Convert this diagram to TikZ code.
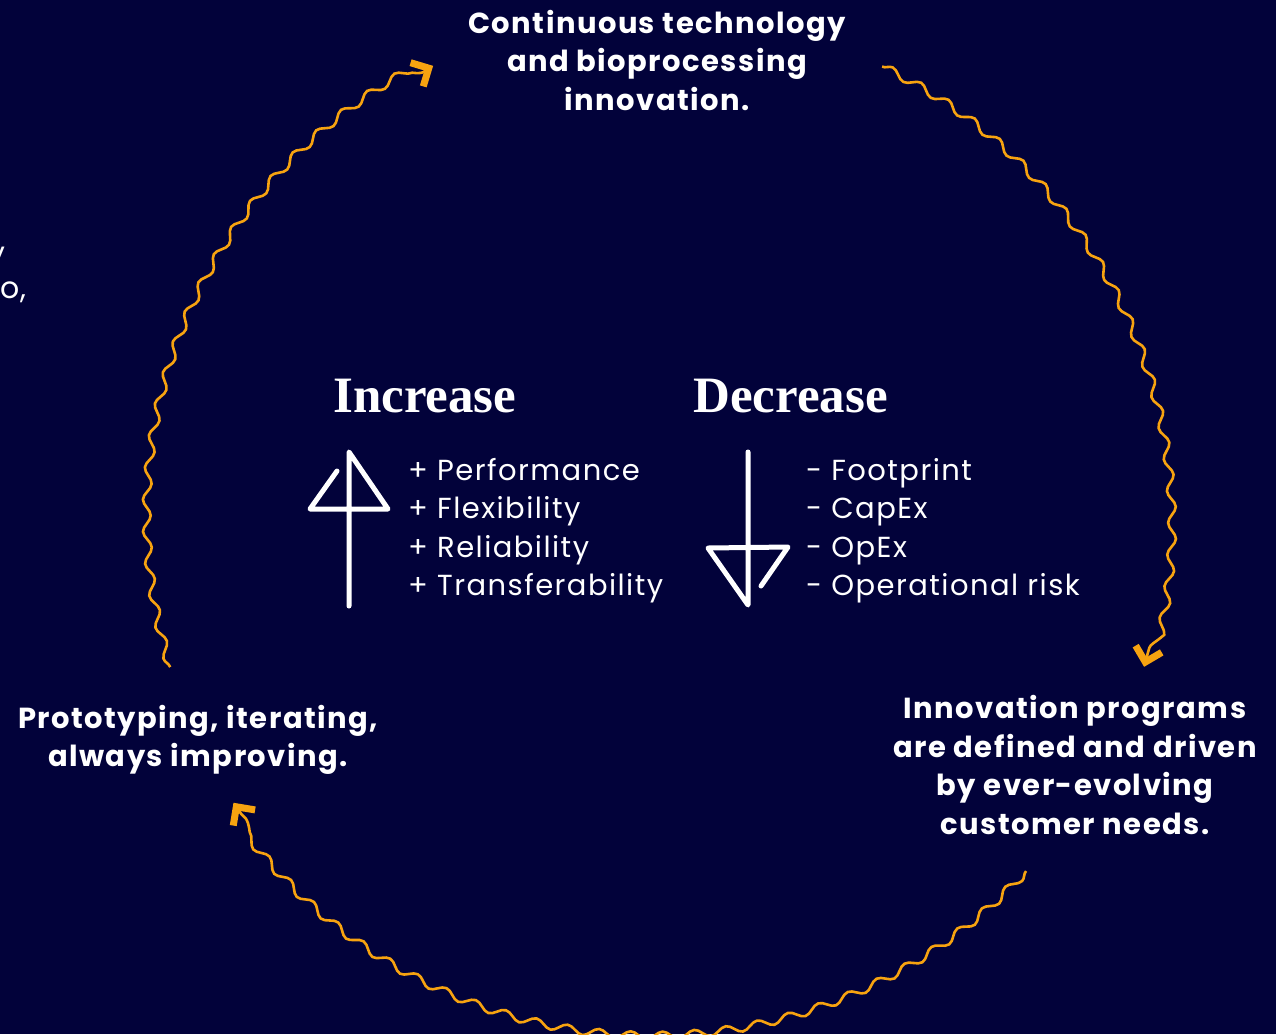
\documentclass[tikz,border=0pt]{standalone}
\usepackage{fontspec}
\setmainfont{Poppins}[LetterSpace=5]
\newfontfamily\headfont{Liberation Serif}
\usetikzlibrary{decorations.pathmorphing,calc}
\definecolor{bg}{RGB}{2,2,58}
\definecolor{amber}{RGB}{247,163,16}
\begin{document}
\begin{tikzpicture}[x=1pt,y=-1pt,
  wave/.style={draw=amber, line width=2.6pt, decorate,
    decoration={snake, amplitude=4pt, segment length=32pt}},
  chev/.style={draw=amber, line width=7pt, line join=miter, line cap=butt},
  cyc/.style={text=white, font=\fontsize{29}{38.5}\selectfont\bfseries, align=center, inner sep=0pt},
  head/.style={text=white, font=\headfont\fontsize{51}{60}\selectfont\bfseries, anchor=base west, inner sep=0pt},
  item/.style={text=white, font=\fontsize{29}{38.5}\selectfont, anchor=base west, inner sep=0pt},
  frag/.style={text=white, font=\fontsize{30}{36}\selectfont, anchor=base east, inner sep=0pt},
  sym/.style={draw=white, line width=5pt, line cap=round, line join=round}]
\fill[bg] (0,0) rectangle (1276,1034);
\useasboundingbox (0,0) rectangle (1276,1034);

% clipped fragments at left edge
\begin{scope}
\clip (0,0) rectangle (1276,1034);
\node[frag] (fragA) at (6,263) {y};
\node[frag] (fragB) at (27,298) {o,};
\end{scope}

% cycle texts
\node[cyc] (topt) at (657,60) {Continuous technology\\and bioprocessing\\innovation.};
\node[cyc] (rightt) at (1075,765) {Innovation programs\\are defined and driven\\by ever-evolving\\customer needs.};
\node[cyc] (leftt) at (198,740) {Prototyping, iterating,\\always improving.};

% circle
\coordinate (c) at (657,522);
\coordinate (r1) at ($(c)+(-63.7:508)$);
\coordinate (r2) at ($(c)+(16:508)$);
\coordinate (r2b) at ($(c)+(13:508)$);
\coordinate (b1) at ($(c)+(43.4:508)$);
\coordinate (b2) at ($(c)+(145.9:508)$);
\coordinate (b2b) at ($(c)+(142.9:508)$);
\coordinate (l1) at ($(c)+(163.4:508)$);
\coordinate (l2) at ($(c)+(243.3:508)$);
\coordinate (l2b) at ($(c)+(240.3:508)$);

\draw[wave] (r1) arc[start angle=-63.7, end angle=16, radius=508];
\draw[wave] (b1) arc[start angle=43.4, end angle=145.9, radius=508];
\draw[wave] (l1) arc[start angle=163.4, end angle=243.3, radius=508];

\draw[chev] ($(r2)!19pt!45:(r2b)$) -- (r2) -- ($(r2)!19pt!-45:(r2b)$);
\draw[chev] ($(b2)!19pt!45:(b2b)$) -- (b2) -- ($(b2)!19pt!-45:(b2b)$);
\draw[chev] ($(l2)!19pt!45:(l2b)$) -- (l2) -- ($(l2)!19pt!-45:(l2b)$);

% headings
\node[head] (inc) at (333,412) {Increase};
\node[head] (dec) at (693,412) {Decrease};

% up arrow
\draw[sym] (349,606) -- (349,452) -- (388,509) -- (310,509) -- (337,471);
% down arrow
\draw[sym] (748,452) -- (748,605) -- (708,548) -- (788,547) -- (761,586);

% lists
\node[item] (i1) at (408,480) {+ Performance};
\node[item] (i2) at (408,518.5) {+ Flexibility};
\node[item] (i3) at (408,557) {+ Reliability};
\node[item] (i4) at (408,595.5) {+ Transferability};

\node[item] (d1) at (806,480) {- Footprint};
\node[item] (d2) at (806,518.5) {- CapEx};
\node[item] (d3) at (806,557) {- OpEx};
\node[item] (d4) at (806,595.5) {- Operational risk};
\end{tikzpicture}
\end{document}
